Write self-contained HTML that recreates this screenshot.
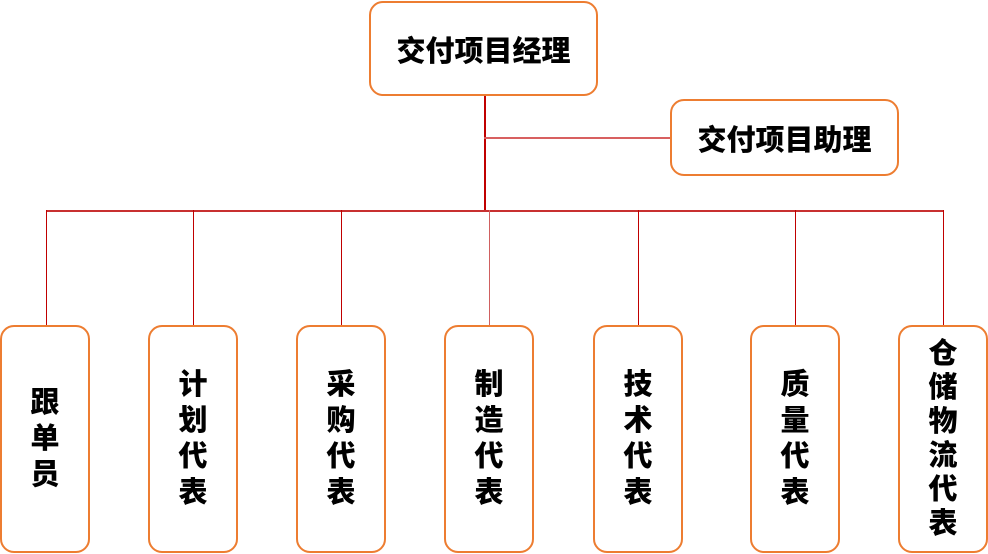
<!DOCTYPE html>
<html><head><meta charset="utf-8"><style>
body{margin:0;width:988px;height:554px;background:#fff;position:relative;overflow:hidden;font-family:"Liberation Sans","Noto Sans CJK SC",sans-serif;font-weight:900;color:#000}
.b{position:absolute;border:2px solid #ed7d31;border-radius:14px;background:#fff;box-sizing:border-box;display:flex;align-items:center;justify-content:center}
.v{font-size:29px;line-height:36px;width:32px;text-align:center;word-break:break-all}
.l{position:absolute;background:#c00000}
</style></head><body>
<div class="l" style="left:484px;top:95px;width:1.5px;height:116px"></div>
<div class="l" style="left:484px;top:137px;width:188px;height:1.5px;background:#d86060"></div>
<div class="l" style="left:46px;top:210px;width:898px;height:1.5px;background:#c83030"></div>
<div class="l" style="left:46px;top:210px;width:1px;height:117px"></div>
<div class="l" style="left:193px;top:210px;width:1px;height:117px"></div>
<div class="l" style="left:341px;top:210px;width:1px;height:117px"></div>
<div class="l" style="left:489px;top:210px;width:1px;height:117px;background:#d06060"></div>
<div class="l" style="left:638px;top:210px;width:1px;height:117px"></div>
<div class="l" style="left:795px;top:210px;width:1px;height:117px"></div>
<div class="l" style="left:943px;top:210px;width:1px;height:117px"></div>
<div class="b" style="left:369px;top:1px;width:229px;height:95px;font-size:29px">交付项目经理</div>
<div class="b" style="left:670px;top:99px;width:229px;height:77px;font-size:29px">交付项目助理</div>
<div class="b" style="left:0px;top:325px;width:90px;height:228px"><div class="v">跟单员</div></div>
<div class="b" style="left:148px;top:325px;width:90px;height:228px"><div class="v">计划代表</div></div>
<div class="b" style="left:296px;top:325px;width:90px;height:228px"><div class="v">采购代表</div></div>
<div class="b" style="left:444px;top:325px;width:90px;height:228px"><div class="v">制造代表</div></div>
<div class="b" style="left:593px;top:325px;width:90px;height:228px"><div class="v">技术代表</div></div>
<div class="b" style="left:750px;top:325px;width:90px;height:228px"><div class="v">质量代表</div></div>
<div class="b" style="left:898px;top:325px;width:90px;height:228px"><div class="v" style="line-height:34px">仓储物流代表</div></div>
</body></html>
